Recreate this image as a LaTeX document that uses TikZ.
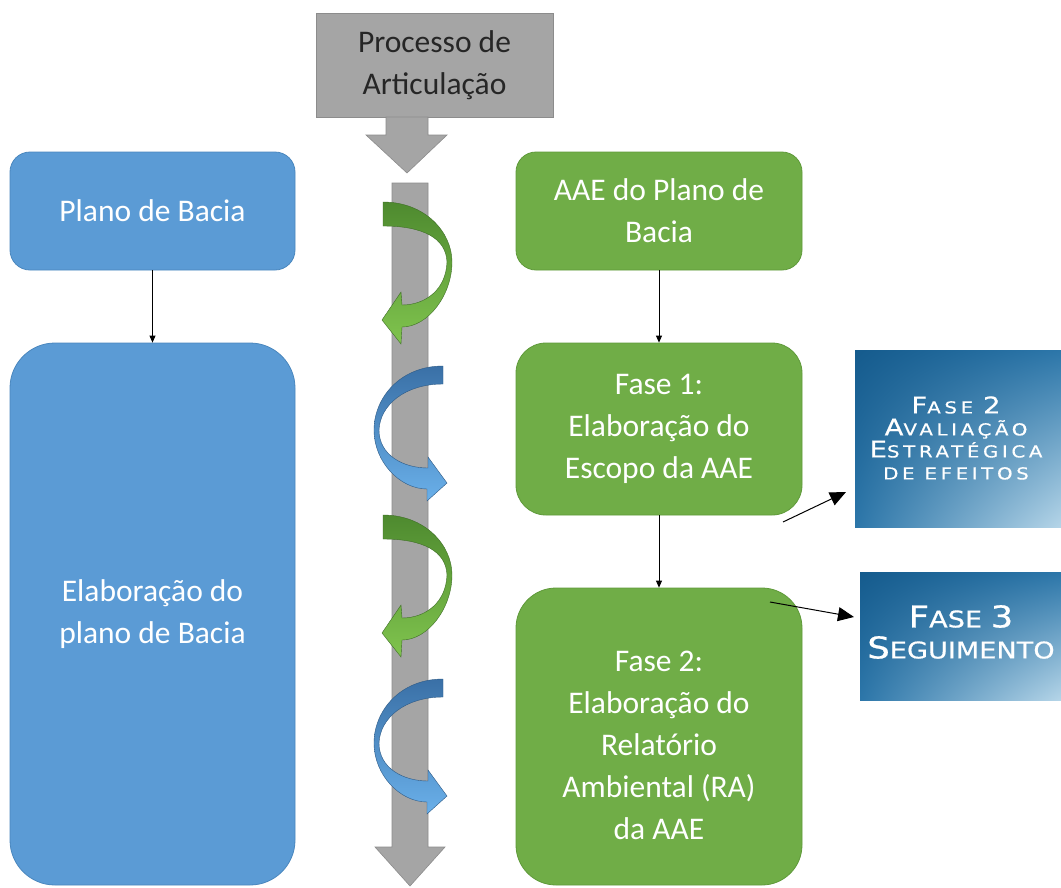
\documentclass[tikz,border=0pt]{standalone}
\usepackage{fontspec}
\setmainfont{Carlito}
\newfontfamily\cpA[FakeStretch=1.2,LetterSpace=22,FakeBold=0.6]{DejaVu Sans}
\newfontfamily\cpB[FakeStretch=1.18,FakeBold=0.6]{DejaVu Sans}
\usetikzlibrary{arrows.meta,shadings}
\definecolor{bblue}{HTML}{5B9BD5}
\definecolor{bblueD}{HTML}{4A87BE}
\definecolor{ggreen}{HTML}{70AD47}
\definecolor{ggreenD}{HTML}{5F9A3A}
\definecolor{ggray}{HTML}{A5A5A5}
\definecolor{ggrayD}{HTML}{8C8C8C}
\definecolor{rgTop}{HTML}{4E8A2F}
\definecolor{rgBot}{HTML}{80C44E}
\definecolor{rbTop}{HTML}{3A70A6}
\definecolor{rbBot}{HTML}{6AB0EA}
\definecolor{fDark}{HTML}{155B8D}
\definecolor{fMid}{HTML}{2C76A9}
\definecolor{fLight}{HTML}{B5D5E8}
\newcommand\capsA[2]{{\fontsize{23}{22}\selectfont #1}{\fontsize{16.5}{22}\selectfont #2}}
\newcommand\capsB[2]{{\fontsize{30}{31}\selectfont #1}{\fontsize{23}{31}\selectfont #2}}
\begin{document}
\begin{tikzpicture}[x=1pt,y=-1pt,
  font=\fontsize{31.5}{42}\selectfont,
  bluebox/.style={fill=bblue,draw=bblueD,line width=0.8pt,text=white,align=center,inner sep=0pt},
  greenbox/.style={fill=ggreen,draw=ggreenD,line width=0.8pt,text=white,align=center,inner sep=0pt},
  txt/.style={text=white,align=center,inner sep=0pt},
  conn/.style={draw=black,line width=0.8pt,-{Triangle[length=7pt,width=6pt]}},
  bigconn/.style={draw=black,line width=1pt,-{Triangle[length=16pt,width=14pt]}},
  ribG/.style={top color=rgTop,bottom color=rgBot,draw=rgTop!80!black,line width=0.4pt},
  ribB/.style={top color=rbTop,bottom color=rbBot,draw=rbTop!80!black,line width=0.4pt},
  phasebox/.style={shading=bilinear interpolation,upper left=fDark,upper right=fMid,lower left=fMid,lower right=fLight,text=white,align=center,inner sep=0pt}
]
\useasboundingbox (0,0) rectangle (1061,887);
\fill[white] (0,0) rectangle (1061,887);

% top process box with arrow
\node[fill=ggray,draw=ggrayD,line width=0.8pt,minimum width=237pt,minimum height=104pt,align=center,inner sep=0pt,text=black!85] (proc) at (434.5,65) {Processo de\\Articulação};
\fill[ggray,draw=ggrayD,line width=0.6pt] (386,117) -- (428,117) -- (428,135) -- (447,135) -- (407,173) -- (366,135) -- (386,135) -- cycle;

% vertical bar arrow
\fill[ggray,draw=ggrayD,line width=0.6pt] (392,183) -- (428,183) -- (428,847) -- (445,847) -- (410,886) -- (375,847) -- (392,847) -- cycle;

% ribbons
\foreach \dy in {0,313}{
\begin{scope}[shift={(0,\dy)}]
\path[ribG] (383,202) .. controls (425,202) and (452,232) .. (452,262)
  .. controls (452,295) and (428,327) .. (402,327) -- (401,344) -- (382,320) -- (401,292) -- (402,305)
  .. controls (425,305) and (446,290) .. (447,262)
  .. controls (446,238) and (423,226) .. (383,226) -- cycle;
\path[ribB] (443,366) .. controls (400,366) and (374,398) .. (374,430)
  .. controls (374,462) and (400,489) .. (427,489) -- (427,501) -- (447,483) -- (428,457) -- (428,468)
  .. controls (403,468) and (379,455) .. (379,430)
  .. controls (380,405) and (405,384) .. (443,384) -- cycle;
\end{scope}}

% left column
\node[bluebox,rounded corners=20pt,minimum width=285pt,minimum height=118pt] (planA) at (152.5,211) {Plano de Bacia};
\node[bluebox,rounded corners=45pt,minimum width=285pt,minimum height=542pt] (planB) at (152.5,614) {Elaboração do\\plano de Bacia};
\draw[conn] (planA) -- (planB);

% right column
\node[greenbox,rounded corners=20pt,minimum width=286pt,minimum height=118pt] (aae) at (659,211) {AAE do Plano de\\Bacia};
\node[greenbox,rounded corners=30pt,minimum width=286pt,minimum height=172pt] (fase1) at (659,429) {Fase 1:\\Elaboração do\\Escopo da AAE};
\node[greenbox,rounded corners=40pt,minimum width=286pt,minimum height=297pt] (fase2) at (659,736.5) {};
\node[txt] (fase2t) at (659,745) {Fase 2:\\Elaboração do\\Relatório\\Ambiental (RA)\\da AAE};
\draw[conn] (aae) -- (fase1);
\draw[conn] (fase1) -- (fase2);

% phase boxes
\node[phasebox,minimum width=206pt,minimum height=177pt] (pA) at (958,438.5) {};
\node[txt,font=\cpA\fontsize{16.5}{22}\selectfont] (pAt) at (956,438) {\capsA{F}{ASE }\capsA{2}{}\\\capsA{A}{VALIAÇÃO}\\\capsA{E}{STRATÉGICA}\\\capsA{}{DE EFEITOS}};
\node[phasebox,minimum width=201pt,minimum height=128pt] (pB) at (960.5,636) {};
\node[txt,font=\cpB\fontsize{23}{31}\selectfont] (pBt) at (961,632) {\capsB{F}{ASE }\capsB{3}{}\\\capsB{S}{EGUIMENTO}};

\coordinate (s1) at (783,522);
\coordinate (e1) at (846,492);
\coordinate (s2) at (770,602);
\coordinate (e2) at (854,617);
\draw[bigconn] (s1) -- (e1);
\draw[bigconn] (s2) -- (e2);
\end{tikzpicture}
\end{document}
